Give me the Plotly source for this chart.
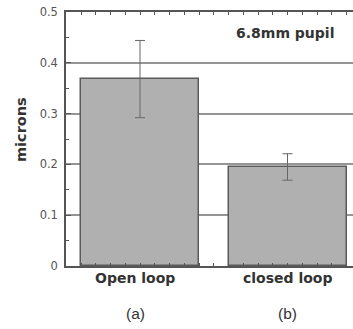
import plotly.graph_objects as go

# Wavefront RMS error (microns) for a 6.8 mm pupil
conditions = ["Open loop", "closed loop"]
panel_tags = ["(a)", "(b)"]
rms_microns = [0.368, 0.195]
rms_err = [0.076, 0.026]
x_pos = [1, 2]

y_ticks = [0, 0.1, 0.2, 0.3, 0.4, 0.5]
y_ticktext = ["0", "0.1", "0.2", "0.3", "0.4", "0.5"]

W, H = 353, 329
ml, mr, mt, mb = 66, 0, 12, 63
plot_w = W - ml - mr
plot_h = H - mt - mb
px_per_unit = 147.5


def ypaper(py):
    return (H - mb - py) / plot_h


def xpaper(px):
    return (px - ml) / plot_w


fig = go.Figure()
fig.add_trace(go.Bar(
    x=x_pos, y=rms_microns, width=0.8,
    marker=dict(color="#b0b0b0", line=dict(color="#5a5a5a", width=1.5)),
    error_y=dict(type="data", array=rms_err, visible=True,
                 color="#666666", thickness=1, width=5),
    showlegend=False,
))

dark = "#333333"
annotations = []
for xv, name, tag, shift in zip(x_pos, conditions, panel_tags, [-5, 0]):
    annotations.append(dict(x=xv, y=ypaper(278), xref="x", yref="paper",
                            text=f"<b>{name}</b>", showarrow=False, xshift=shift,
                            font=dict(family="DejaVu Sans", size=14, color=dark),
                            xanchor="center", yanchor="middle"))
    annotations.append(dict(x=xv, y=ypaper(313), xref="x", yref="paper",
                            text=tag, showarrow=False, xshift=shift,
                            font=dict(family="Liberation Sans", size=15.5, color=dark),
                            xanchor="center", yanchor="middle"))
annotations.append(dict(x=xpaper(285), y=ypaper(33), xref="paper", yref="paper",
                        text="<b>6.8mm pupil</b>", showarrow=False,
                        font=dict(family="DejaVu Sans", size=14, color=dark),
                        xanchor="center", yanchor="middle"))
annotations.append(dict(x=xpaper(21), y=ypaper(130), xref="paper", yref="paper",
                        text="<b>microns</b>", showarrow=False, textangle=-90,
                        font=dict(family="DejaVu Sans", size=14.5, color=dark),
                        xanchor="center", yanchor="middle"))

x0 = 1 - (140 - ml) / px_per_unit
x1 = x0 + plot_w / px_per_unit

fig.update_layout(
    width=W, height=H,
    margin=dict(l=ml, r=mr, t=mt, b=mb, pad=0),
    paper_bgcolor="white", plot_bgcolor="white",
    bargap=0,
    annotations=annotations,
    xaxis=dict(range=[x0, x1], showgrid=False, zeroline=False,
               showline=True, linecolor="#555555", linewidth=1.5,
               mirror="allticks", tickvals=[1.5], ticktext=[""],
               ticks="inside", ticklen=5, tickcolor="#555555", tickwidth=1,
               minor=dict(dtick=0.1, tick0=0, ticks="inside", ticklen=3,
                          tickcolor="#555555", tickwidth=1, showgrid=False),
               showticklabels=False),
    yaxis=dict(range=[0, 0.5], tickvals=y_ticks, ticktext=y_ticktext,
               showgrid=True, gridcolor="#959595", gridwidth=2,
               zeroline=False, showline=True, mirror=False,
               linecolor="#555555", linewidth=1.5,
               ticks="inside", ticklen=5, tickcolor="#555555",
               minor=dict(dtick=0.05, tick0=0, ticks="inside", ticklen=3,
                          tickcolor="#555555", showgrid=False),
               tickfont=dict(family="DejaVu Sans", size=11.5, color="#555555"),
               ticklabelstandoff=4),
)

fig.write_html("out.html")
